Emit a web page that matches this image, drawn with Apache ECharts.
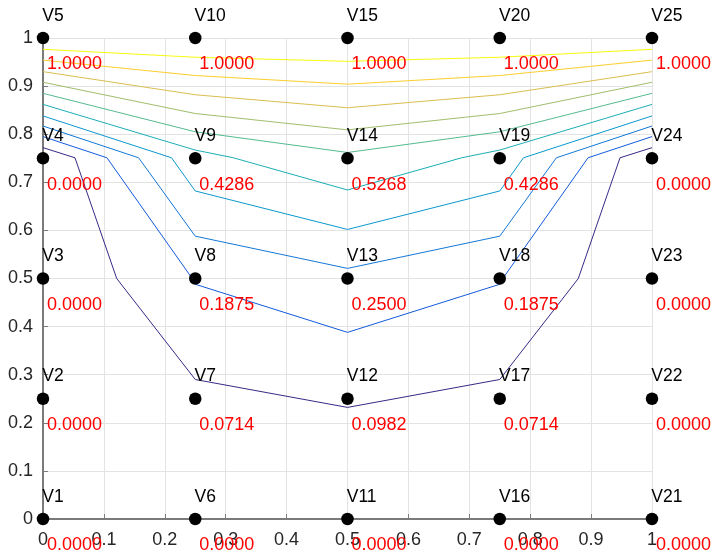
<!DOCTYPE html>
<html>
<head>
<meta charset="utf-8">
<script src="https://cdn.jsdelivr.net/npm/echarts@6/dist/echarts.min.js"></script>
<style>
html,body{margin:0;padding:0;background:#fff;}
#c{width:714px;height:553px;}
</style>
</head>
<body>
<div id="c"></div>
<script>
// Vertex positions (grid nodes), names and nodal values
var vertexX = [0,0,0,0,0, 0.25,0.25,0.25,0.25,0.25, 0.5,0.5,0.5,0.5,0.5, 0.75,0.75,0.75,0.75,0.75, 1,1,1,1,1];
var vertexY = [0,0.25,0.5,0.75,1, 0,0.25,0.5,0.75,1, 0,0.25,0.5,0.75,1, 0,0.25,0.5,0.75,1, 0,0.25,0.5,0.75,1];
var vertexNames = ['V1','V2','V3','V4','V5','V6','V7','V8','V9','V10','V11','V12','V13','V14','V15','V16','V17','V18','V19','V20','V21','V22','V23','V24','V25'];
var vertexValues = ['0.0000','0.0000','0.0000','0.0000','1.0000',
                    '0.0000','0.0714','0.1875','0.4286','1.0000',
                    '0.0000','0.0982','0.2500','0.5268','1.0000',
                    '0.0000','0.0714','0.1875','0.4286','1.0000',
                    '0.0000','0.0000','0.0000','0.0000','1.0000'];

// Contour lines (lowest to highest level)
var contour1 = [[0,0.772],[0.0525,0.751],[0.121,0.5],[0.25,0.29],[0.5,0.232],[0.75,0.29],[0.879,0.5],[0.9475,0.751],[1,0.772]];
var contour2 = [[0,0.795],[0.105,0.751],[0.245,0.5],[0.25,0.488],[0.5,0.388],[0.75,0.488],[0.755,0.5],[0.895,0.751],[1,0.795]];
var contour3 = [[0,0.817],[0.157,0.751],[0.25,0.588],[0.5,0.521],[0.75,0.588],[0.843,0.751],[1,0.817]];
var contour4 = [[0,0.838],[0.211,0.751],[0.25,0.682],[0.5,0.602],[0.75,0.682],[0.789,0.751],[1,0.838]];
var contour5 = [[0,0.862],[0.25,0.767],[0.3125,0.751],[0.5,0.684],[0.6875,0.751],[0.75,0.767],[1,0.862]];
var contour6 = [[0,0.885],[0.25,0.805],[0.5,0.762],[0.75,0.805],[1,0.885]];
var contour7 = [[0,0.908],[0.25,0.843],[0.5,0.809],[0.75,0.843],[1,0.908]];
var contour8 = [[0,0.930],[0.25,0.882],[0.5,0.855],[0.75,0.882],[1,0.930]];
var contour9 = [[0,0.954],[0.25,0.922],[0.5,0.904],[0.75,0.922],[1,0.954]];
var contour10 = [[0,0.9765],[0.25,0.960],[0.5,0.9515],[0.75,0.960],[1,0.9765]];
var contourColors = ['#352a87','#135adb','#1378d8','#0b98ce','#1caeb5','#56bb90','#a0be6d','#dbbe50','#fdce2e','#f9fb0e'];

var contours = [contour1,contour2,contour3,contour4,contour5,contour6,contour7,contour8,contour9,contour10];
var FONT = '"Liberation Sans", Arial, Helvetica, sans-serif';

var series = [];
contours.forEach(function(c, i){
  series.push({
    type:'line', data:c, symbol:'none', silent:true, z:2,
    lineStyle:{color:contourColors[i], width:1, opacity:1}
  });
});

var pts = vertexX.map(function(x,i){ return {value:[x, vertexY[i]], name:vertexNames[i], val:vertexValues[i]}; });

series.push({
  type:'scatter', symbol:'circle', symbolSize:12.5, z:5, silent:true,
  itemStyle:{color:'#000', opacity:1},
  data: pts.map(function(p){ return {value:p.value, name:p.name}; }),
  label:{show:true, formatter:function(p){return p.name;}, position:[5.5,-16],
    align:'left', verticalAlign:'middle', color:'#000', fontSize:17.5, fontFamily:FONT}
});
series.push({
  type:'scatter', symbol:'circle', symbolSize:12, z:6, silent:true,
  itemStyle:{color:'rgba(0,0,0,0)', opacity:1},
  data: pts.map(function(p){ return {value:p.value, name:p.val}; }),
  label:{show:true, formatter:function(p){return p.name;}, position:[10,32.5],
    align:'left', verticalAlign:'middle', color:'#ff0000', fontSize:18, fontFamily:FONT}
});

var axisCommon = {
  type:'value', min:0, max:1, interval:0.1,
  axisLine:{show:true, onZero:false, lineStyle:{color:'#7a7a7a', width:2}},
  axisTick:{show:true, inside:true, length:5, lineStyle:{color:'#7a7a7a', width:1}},
  splitLine:{show:true, lineStyle:{color:'#e3e3e3', width:1}},
  axisLabel:{color:'#262626', fontSize:18, fontFamily:FONT,
    formatter:function(v){ return String(Math.round(v*10)/10); }}
};

var chart = echarts.init(document.getElementById('c'), null, {renderer:'canvas'});
chart.setOption({
  animation:false,
  backgroundColor:'#fff',
  grid:{left:43, right:62, top:38, bottom:34, containLabel:false},
  xAxis: Object.assign({}, axisCommon, {axisLabel:Object.assign({}, axisCommon.axisLabel, {margin:12})}),
  yAxis: Object.assign({}, axisCommon, {axisLabel:Object.assign({}, axisCommon.axisLabel, {margin:10})}),
  series: series
});
</script>
</body>
</html>
